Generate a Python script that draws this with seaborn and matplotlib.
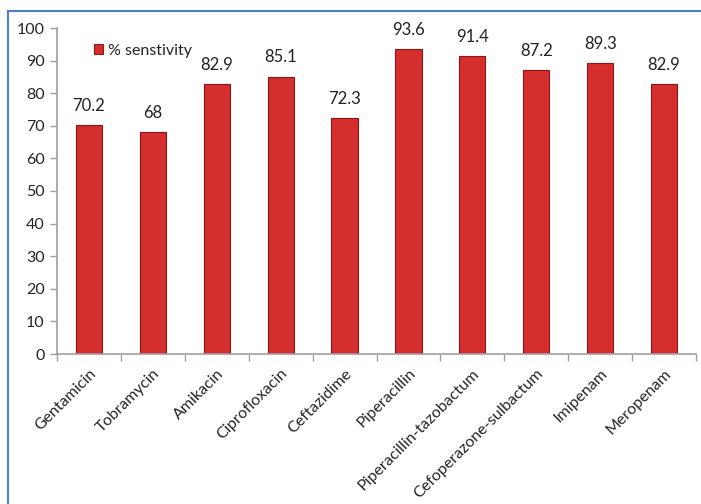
import matplotlib
matplotlib.use("Agg")
import matplotlib.pyplot as plt
import seaborn as sns
import pandas as pd
import numpy as np
from matplotlib.patches import Rectangle

categories = ["Gentamicin", "Tobramycin", "Amikacin", "Ciprofloxacin", "Ceftazidime",
              "Piperacillin", "Piperacillin-tazobactum", "Cefoperazone-sulbactum",
              "Imipenam", "Meropenam"]
values = [70.2, 68, 82.9, 85.1, 72.3, 93.6, 91.4, 87.2, 89.3, 82.9]
value_labels = ["70.2", "68", "82.9", "85.1", "72.3", "93.6", "91.4", "87.2", "89.3", "82.9"]
series_name = "% senstivity"

sns.set_style("white")
plt.rcParams['font.family'] = ['Lato', 'DejaVu Sans']

df = pd.DataFrame({"drug": categories, "val": values})

fig = plt.figure(figsize=(7.01, 5.04), dpi=100)
ax = fig.add_axes([57/701, 1-354/504, (696-57)/701, (354-28)/504])

sns.barplot(data=df, x="drug", y="val", color="#D62D2D", width=0.41, ax=ax,
            edgecolor="#8E1616", linewidth=0.8, label=series_name, saturation=1)

for c in ax.containers:
    ax.bar_label(c, labels=value_labels, padding=8, fontsize=12, color="#222222")

ax.set_ylim(0, 100)
ax.set_xlim(-0.5, len(categories) - 0.5)
ax.set_yticks(np.arange(0, 101, 10))
ax.set_xlabel("")
ax.set_ylabel("")

ax.set_xticks(np.arange(len(categories)))
ax.set_xticklabels(categories, rotation=45, ha="right", rotation_mode="anchor", fontsize=11.5)
ax.set_xticks(np.arange(-0.5, len(categories)), minor=True)
ax.tick_params(axis="x", which="major", length=0, pad=9)
ax.tick_params(axis="x", which="minor", length=5, color="#A0A0A0", width=1, direction="out", bottom=True)
ax.tick_params(axis="y", length=5, color="#A0A0A0", width=1, direction="out", left=True, labelsize=11.5, pad=4)

for s in ["top", "right"]:
    ax.spines[s].set_visible(False)
for s in ["left", "bottom"]:
    ax.spines[s].set_color("#A0A0A0")
    ax.spines[s].set_linewidth(1.2)

leg = ax.legend(loc="upper left", bbox_to_anchor=(0.035, 0.995), frameon=False,
                fontsize=11.5, handlelength=0.6, handleheight=0.6, handletextpad=0.3)

border = Rectangle((8/701, -0.1), 1.2, 1 - 11/504 + 0.1, transform=fig.transFigure,
                   fill=False, edgecolor="#4A7EC8", linewidth=1.5, clip_on=False)
fig.patches.append(border)

fig.savefig("out.png", dpi=100)
